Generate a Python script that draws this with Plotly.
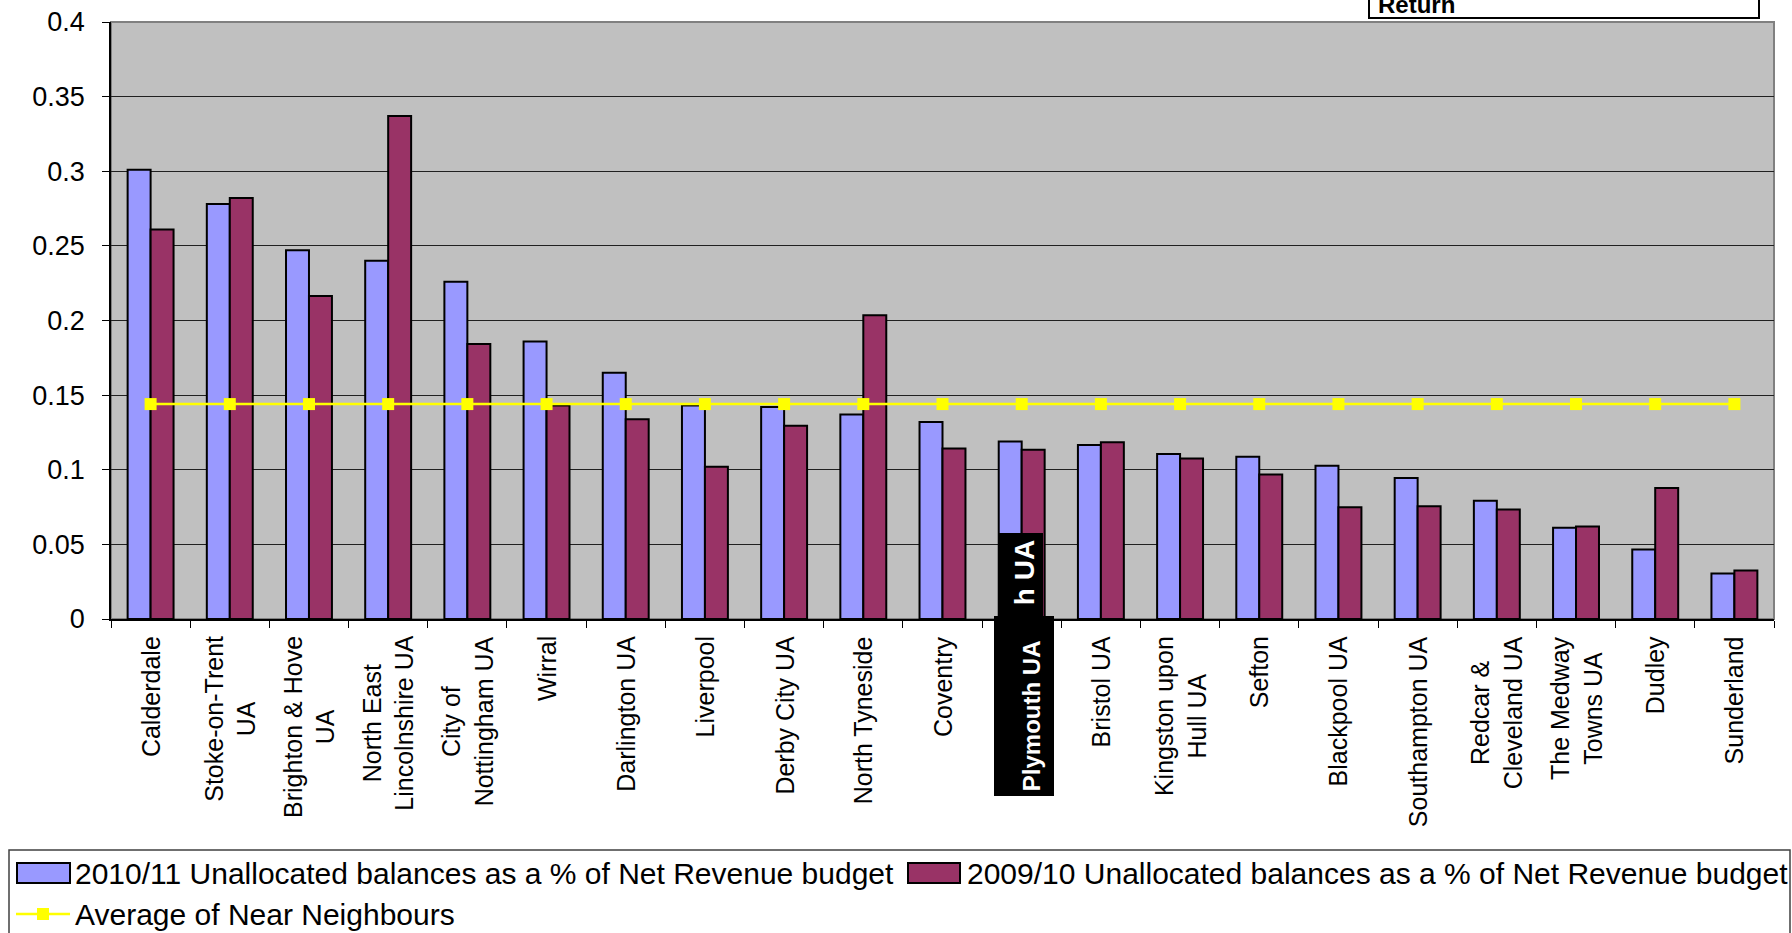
import plotly.graph_objects as go

# Councils (near neighbours), in chart order
councils = [
    "Calderdale", "Stoke-on-Trent<br>UA", "Brighton & Hove<br>UA",
    "North East<br>Lincolnshire UA", "City of<br>Nottingham UA", "Wirral",
    "Darlington UA", "Liverpool", "Derby City UA", "North Tyneside",
    "Coventry", "Plymouth UA", "Bristol UA", "Kingston upon<br>Hull UA",
    "Sefton", "Blackpool UA", "Southampton UA", "Redcar &<br>Cleveland UA",
    "The Medway<br>Towns UA", "Dudley", "Sunderland",
]
category_keys = [c.replace("<br>", " ") for c in councils]

# Unallocated balances as a share of net revenue budget
balances_2010_11 = [
    0.301, 0.278, 0.247, 0.240, 0.226, 0.186, 0.165, 0.143, 0.142, 0.137,
    0.132, 0.119, 0.1165, 0.1105, 0.1087, 0.1027, 0.0945, 0.0792, 0.0611,
    0.0465, 0.0305,
]
balances_2009_10 = [
    0.261, 0.282, 0.2164, 0.337, 0.1842, 0.143, 0.1338, 0.102, 0.1294, 0.2035,
    0.1143, 0.1134, 0.1184, 0.1075, 0.0968, 0.0749, 0.0756, 0.0733, 0.0620,
    0.0878, 0.0325,
]
avg_near_neighbours = [
    0.144, 0.144, 0.144, 0.144, 0.144, 0.144, 0.144, 0.144, 0.144, 0.144,
    0.144, 0.144, 0.144, 0.144, 0.144, 0.144, 0.144, 0.144, 0.144, 0.144,
    0.144,
]

series_names = [
    "2010/11 Unallocated balances as a % of Net Revenue budget",
    "2009/10 Unallocated balances as a % of Net Revenue budget",
    "Average of Near Neighbours",
]
highlight = "Plymouth UA"

BLUE = "#9999FF"
PLUM = "#993366"
YELLOW = "#FFFF00"
FONT = "Liberation Sans, Arial, sans-serif"

W, H = 1792, 933
ML, MR, MT, MB = 111, 18, 22, 314
PW, PH = W - ML - MR, H - MT - MB


def px_x(px):
    """Page pixel column -> paper x."""
    return (px - ML) / PW


def px_y(py):
    """Page pixel row -> paper y."""
    return (H - MB - py) / PH


fig = go.Figure()
fig.add_trace(go.Bar(
    x=category_keys, y=balances_2010_11, name=series_names[0],
    marker=dict(color=BLUE, line=dict(color="black", width=2)),
))
fig.add_trace(go.Bar(
    x=category_keys, y=balances_2009_10, name=series_names[1],
    marker=dict(color=PLUM, line=dict(color="black", width=2)),
))
fig.add_trace(go.Scatter(
    x=category_keys, y=avg_near_neighbours, name=series_names[2],
    mode="lines+markers",
    line=dict(color=YELLOW, width=2.5),
    marker=dict(symbol="square", size=12, color=YELLOW),
))

shapes = []
annotations = []

# plot-area frame (grey on top/right, axes drawn in black over it)
shapes.append(dict(type="rect", xref="paper", yref="paper", x0=0, x1=1, y0=0, y1=1,
                   line=dict(color="#808080", width=2), layer="below"))

# category labels under the axis
for key, label in zip(category_keys, councils):
    if key == highlight:
        continue
    annotations.append(dict(
        x=key, xref="x", y=0, yref="paper", yanchor="top", xanchor="center",
        text=label, textangle=-90, align="center", showarrow=False,
        yshift=-15, font=dict(family=FONT, size=25, color="black"),
    ))

# highlighted council label: white on black
shapes.append(dict(type="rect", xref="paper", yref="paper",
                   x0=px_x(994), x1=px_x(1054), y0=px_y(796), y1=px_y(616),
                   fillcolor="black", line=dict(width=0), layer="above"))
annotations.append(dict(
    x=highlight, xref="x", y=px_y(638), yref="paper", yanchor="top", xanchor="center",
    xshift=10, text="<b>Plymouth UA</b>", textangle=-90, showarrow=False,
    font=dict(family=FONT, size=24, color="white"),
))
shapes.append(dict(type="rect", xref="paper", yref="paper",
                   x0=px_x(999), x1=px_x(1043), y0=px_y(617), y1=px_y(533),
                   fillcolor="black", line=dict(width=0), layer="above"))
annotations.append(dict(
    x=highlight, xref="x", y=px_y(538), yref="paper", yanchor="top", xanchor="center",
    xshift=3, text="<b>h UA</b>", textangle=-90, showarrow=False,
    font=dict(family=FONT, size=28, color="white"),
))

# "Return" button box at the top
shapes.append(dict(type="rect", xref="paper", yref="paper",
                   x0=px_x(1369), x1=px_x(1759), y0=px_y(18), y1=px_y(-10),
                   fillcolor="white", line=dict(color="black", width=2)))
annotations.append(dict(
    x=px_x(1376), xref="paper", y=px_y(20), yref="paper", xanchor="left", yanchor="bottom",
    text="<b>Return</b>", showarrow=False, font=dict(family=FONT, size=24, color="black"),
))

# legend panel
shapes.append(dict(type="rect", xref="paper", yref="paper",
                   x0=px_x(9), x1=px_x(1790), y0=px_y(945), y1=px_y(850),
                   fillcolor="white", line=dict(color="#404040", width=1.5)))
shapes.append(dict(type="rect", xref="paper", yref="paper",
                   x0=px_x(17), x1=px_x(70), y0=px_y(883), y1=px_y(863),
                   fillcolor=BLUE, line=dict(color="black", width=2)))
shapes.append(dict(type="rect", xref="paper", yref="paper",
                   x0=px_x(908), x1=px_x(960), y0=px_y(883), y1=px_y(863),
                   fillcolor=PLUM, line=dict(color="black", width=2)))
shapes.append(dict(type="line", xref="paper", yref="paper",
                   x0=px_x(16), x1=px_x(70), y0=px_y(914), y1=px_y(914),
                   line=dict(color=YELLOW, width=2.5)))
shapes.append(dict(type="rect", xref="paper", yref="paper",
                   x0=px_x(37), x1=px_x(49), y0=px_y(920), y1=px_y(908),
                   fillcolor=YELLOW, line=dict(width=0)))
for text, lx, ly in [(series_names[0], 73, 873), (series_names[1], 965, 873),
                     (series_names[2], 73, 914)]:
    annotations.append(dict(
        x=px_x(lx), xref="paper", y=px_y(ly), yref="paper", xanchor="left",
        yanchor="middle", text=text, showarrow=False,
        font=dict(family=FONT, size=30, color="black"),
    ))

fig.update_layout(
    width=W, height=H,
    margin=dict(l=ML, r=MR, t=MT, b=MB, pad=0, autoexpand=False),
    paper_bgcolor="white", plot_bgcolor="#C0C0C0",
    font=dict(family=FONT, color="black"),
    barmode="group", bargap=0.42, bargroupgap=0,
    showlegend=False,
    shapes=shapes, annotations=annotations,
)
fig.update_xaxes(
    type="category", categoryorder="array", categoryarray=category_keys,
    range=[-0.5, len(category_keys) - 0.5],
    showticklabels=False, ticks="outside", tickson="boundaries", ticklen=7,
    tickcolor="black", showline=True, linecolor="black", linewidth=1.5,
    showgrid=False, zeroline=False,
)
fig.update_yaxes(
    range=[0, 0.4], tick0=0, dtick=0.05,
    ticks="outside", ticklen=7, tickcolor="black",
    tickfont=dict(family=FONT, size=27, color="black"),
    showline=True, linecolor="black", linewidth=1.5,
    showgrid=True, gridcolor="#202020", gridwidth=1,
    zeroline=False, ticklabelstandoff=12,
)

fig.write_html("out.html")
